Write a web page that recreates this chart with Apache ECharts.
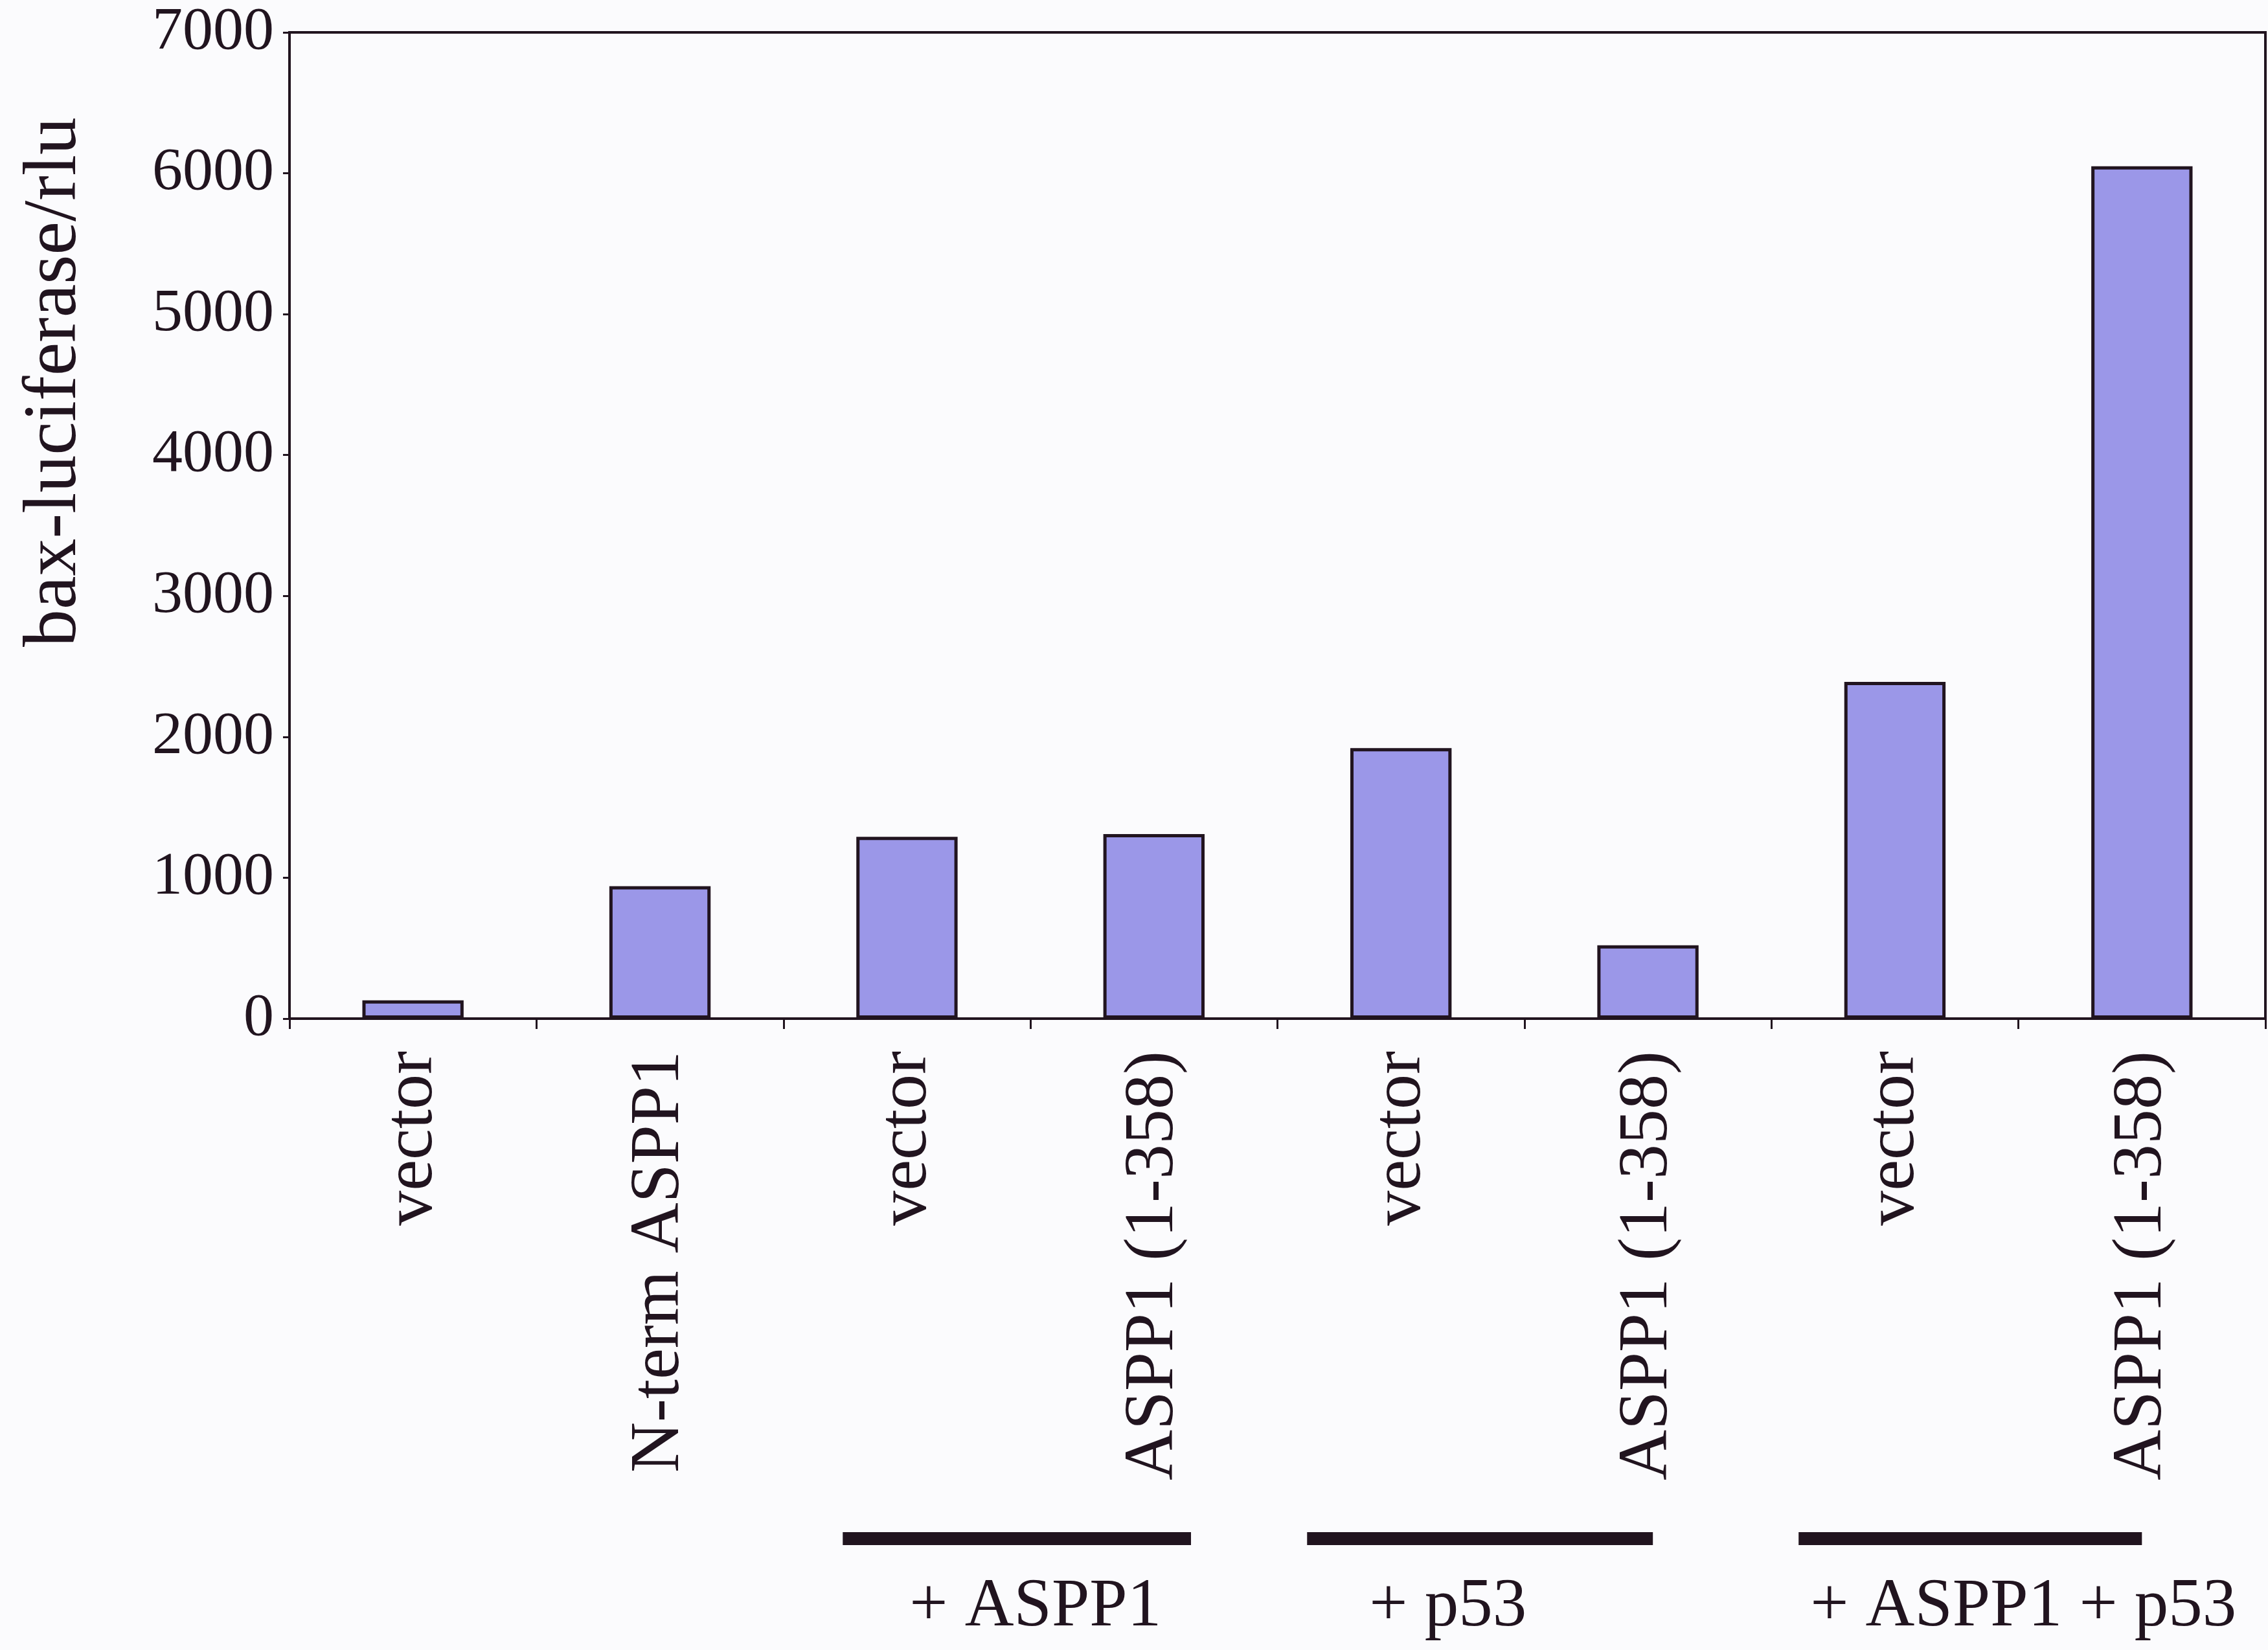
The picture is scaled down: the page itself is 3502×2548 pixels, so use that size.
<!DOCTYPE html>
<html>
<head>
<meta charset="utf-8">
<script src="https://cdn.jsdelivr.net/npm/echarts@6/dist/echarts.min.js"></script>
<style>
  html, body { margin: 0; padding: 0; background: #fbfbfd; }
  #chart { width: 3502px; height: 2548px; }
</style>
</head>
<body>
<div id="chart"></div>
<script>
// data
const categories = ["vector", "N-term ASPP1", "vector", "ASPP1 (1-358)", "vector", "ASPP1 (1-358)", "vector", "ASPP1 (1-358)"];
const values = [130, 940, 1290, 1310, 1920, 520, 2390, 6050];
const yMin = 0;
const yMax = 7000;
const yStep = 1000;
const yName = "bax-luciferase/rlu";

// groups drawn under the labels (category index ranges)
const groupLabels = ["+ ASPP1", "+ p53", "+ ASPP1 + p53"];
const groupFrom = [2, 4, 6];
const groupTo = [3, 5, 7];

const ink = "#21141f";
const font = "Liberation Serif";

let myChart = echarts.init(document.getElementById("chart"));
myChart.setOption({
  backgroundColor: "#fbfbfd",
  animation: false,
  textStyle: { fontFamily: font, color: ink },
  grid: {
    left: 447,
    right: 4,
    top: 50,
    bottom: 975,
    show: true,
    borderColor: ink,
    borderWidth: 4,
    backgroundColor: "transparent",
  },
  xAxis: {
    type: "category",
    data: categories,
    axisLine: { show: true, lineStyle: { color: ink, width: 4 } },
    axisTick: { show: true, length: 16, lineStyle: { color: ink, width: 3 } },
    axisLabel: {
      rotate: 90,
      margin: 50,
      fontSize: 108,
      fontFamily: font,
      color: ink,
      interval: 0,
    },
  },
  yAxis: {
    type: "value",
    min: yMin,
    max: yMax,
    interval: yStep,
    splitLine: { show: false },
    axisLine: { show: true, lineStyle: { color: ink, width: 4 } },
    axisTick: { show: true, length: 10, lineStyle: { color: ink, width: 3 } },
    axisLabel: {
      margin: 24,
      fontSize: 94,
      fontFamily: font,
      color: ink,
      formatter: function (v) {
        return String(v);
      },
    },
  },
  series: [
    {
      type: "bar",
      data: values,
      barWidth: "41%",
      itemStyle: {
        color: "#9b97e8",
        borderColor: ink,
        borderWidth: 5,
      },
    },
  ],
});

// group bars + captions under the category labels, placed from the axis scale
const px = (i) => myChart.convertToPixel({ gridIndex: 0 }, [i, 0])[0];
const band = px(1) - px(0);
const lineLeft = [-0.26, -0.38, -0.39];   // in band widths, from the first bar centre
const lineRight = [0.15, 0.02, 0.0];      // in band widths, from the last bar centre
const textShift = [0.02, -0.31, 0.02];
let graphics = [];
groupLabels.forEach((label, g) => {
  const x1 = px(groupFrom[g]) + lineLeft[g] * band;
  const x2 = px(groupTo[g]) + lineRight[g] * band;
  const mid = (px(groupFrom[g]) + px(groupTo[g])) / 2 + textShift[g] * band;
  graphics.push({
    type: "rect",
    shape: { x: x1, y: 2366, width: x2 - x1, height: 20 },
    style: { fill: ink },
  });
  graphics.push({
    type: "text",
    x: mid,
    y: 2482,
    style: {
      text: label,
      font: "105px '" + font + "'",
      fill: ink,
      align: "center",
      verticalAlign: "middle",
    },
  });
});
// y axis title
graphics.push({
  type: "text",
  x: 86,
  y: 590,
  rotation: Math.PI / 2,
  style: {
    text: yName,
    font: "116px '" + font + "'",
    fill: ink,
    align: "center",
    verticalAlign: "middle",
  },
});
myChart.setOption({ graphic: graphics });

window.addEventListener("resize", function () {
  myChart.resize();
});
</script>
</body>
</html>
